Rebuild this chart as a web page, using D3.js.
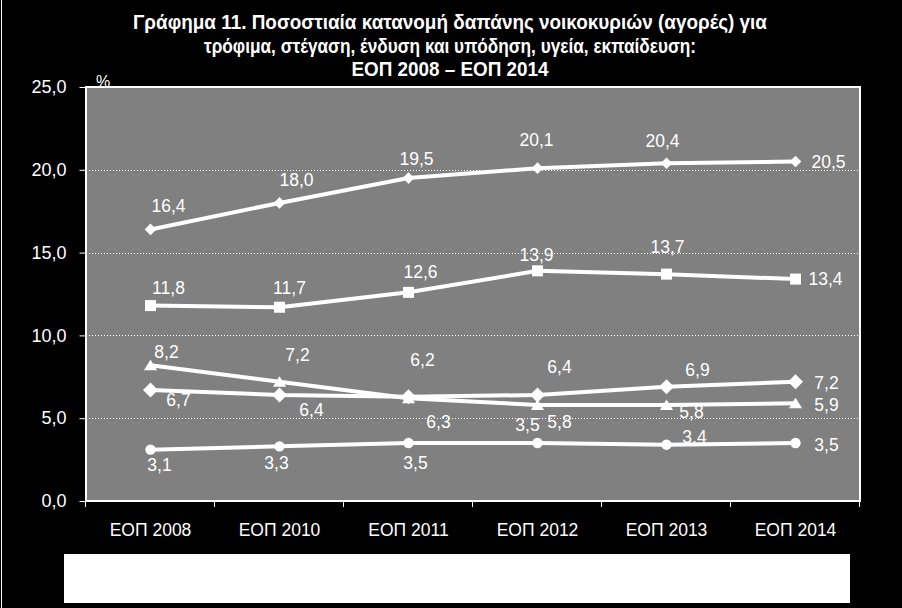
<!DOCTYPE html>
<html>
<head>
<meta charset="utf-8">
<script src="https://cdn.jsdelivr.net/npm/d3@7"></script>
<style>
  html, body { margin: 0; padding: 0; background: #000; }
  svg { display: block; }
  text { font-family: "Liberation Sans", Arial, sans-serif; fill: #fff; }
</style>
</head>
<body>
<svg id="chart" width="902" height="608"></svg>
<script>
// ---- Data ----
const categories = ["ΕΟΠ 2008", "ΕΟΠ 2010", "ΕΟΠ 2011", "ΕΟΠ 2012", "ΕΟΠ 2013", "ΕΟΠ 2014"];
const food      = [16.4, 18.0, 19.5, 20.1, 20.4, 20.5];
const housing   = [11.8, 11.7, 12.6, 13.9, 13.7, 13.4];
const clothing  = [8.2, 7.2, 6.2, 5.8, 5.8, 5.9];
const health    = [6.7, 6.4, 6.3, 6.4, 6.9, 7.2];
const education = [3.1, 3.3, 3.5, 3.5, 3.4, 3.5];
const yTicks = [0, 5, 10, 15, 20, 25];
const titleLines = [
  "Γράφημα 11. Ποσοστιαία κατανομή δαπάνης νοικοκυριών (αγορές) για",
  "τρόφιμα, στέγαση, ένδυση και υπόδηση, υγεία, εκπαίδευση:",
  "ΕΟΠ 2008 – ΕΟΠ 2014"
];

// ---- Label placement (style, offsets from point in px) ----
const foodLabelOffsets      = [[18,-24],[17,-23],[8,-19],[-1,-28],[-4,-22],[33,0]];
const housingLabelOffsets   = [[18,-18],[10,-19],[12,-20],[-1,-16],[1,-27],[30,0]];
const clothingLabelOffsets  = [[16,-13],[18,-27],[14,-38],[22,17],[25,7],[31,2]];
const healthLabelOffsets    = [[28,10],[32,15],[30,25],[22,-28],[31,-17],[31,1]];
const educationLabelOffsets = [[9,15],[-3,17],[7,20],[-10,-18],[28,-8],[31,2]];

const W = 902, H = 608;
const plot = { left: 86, right: 860, top: 87, bottom: 501 };

const svg = d3.select("#chart");

// left frame line
svg.append("line").attr("x1", 1.5).attr("x2", 1.5).attr("y1", 0).attr("y2", H)
  .attr("stroke", "#fff").attr("stroke-width", 1);

// title
const titleY = [29, 53, 76];
const titleW = [634, 492, 197];
titleLines.forEach((t, i) => {
  svg.append("text")
    .attr("x", 450).attr("y", titleY[i])
    .attr("text-anchor", "middle")
    .attr("font-weight", "bold")
    .attr("font-size", 19.5)
    .style("font-family", "'Liberation Sans Narrow', 'Arial Narrow', 'Liberation Sans', Arial, sans-serif")
    .attr("textLength", titleW[i])
    .attr("lengthAdjust", "spacingAndGlyphs")
    .text(t);
});

// scales
const x = d3.scaleBand().domain(categories).range([plot.left, plot.right]).paddingInner(0).paddingOuter(0);
const y = d3.scaleLinear().domain([0, 25]).range([plot.bottom, plot.top]);
const cx = c => x(c) + x.bandwidth() / 2;

// plot background
svg.append("rect")
  .attr("x", plot.left).attr("y", plot.top)
  .attr("width", plot.right - plot.left).attr("height", plot.bottom - plot.top)
  .attr("fill", "#808080");

// gridlines
svg.append("g").selectAll("line")
  .data(yTicks.filter(d => d > 0 && d < 25))
  .join("line")
  .attr("x1", plot.left).attr("x2", plot.right)
  .attr("y1", d => Math.round(y(d)) + 0.5).attr("y2", d => Math.round(y(d)) + 0.5)
  .attr("stroke", "#fff").attr("stroke-width", 1).attr("stroke-dasharray", "1,2");

// plot border
svg.append("rect")
  .attr("x", plot.left).attr("y", plot.top)
  .attr("width", plot.right - plot.left).attr("height", plot.bottom - plot.top)
  .attr("fill", "none").attr("stroke", "#fff").attr("stroke-width", 2);

// y axis
const yAxis = d3.axisLeft(y).tickValues(yTicks).tickSize(6).tickPadding(13)
  .tickFormat(d => d3.format(".1f")(d).replace(".", ","));
const gy = svg.append("g").attr("transform", `translate(${plot.left - 0.5},0)`).call(yAxis);
gy.select(".domain").remove();
gy.selectAll(".tick line").attr("stroke", "#fff");
gy.selectAll(".tick text").attr("font-size", 18).attr("fill", "#fff")
  .style("font-family", "'Liberation Sans', Arial, sans-serif");

// "%" label
svg.append("text").attr("x", 103).attr("y", 87).attr("text-anchor", "middle")
  .attr("font-size", 16).text("%");

// x axis labels
const xAxis = d3.axisBottom(x).tickSize(0).tickPadding(23);
const gx = svg.append("g").attr("transform", `translate(0,${plot.bottom})`).call(xAxis);
gx.select(".domain").remove();
gx.selectAll(".tick text").attr("font-size", 17.5).attr("fill", "#fff")
  .style("font-family", "'Liberation Sans', Arial, sans-serif");

// x tick marks at band edges
const edges = [x(categories[0])].concat(categories.map(c => x(c) + x.bandwidth()));
svg.append("g").selectAll("line").data(edges).join("line")
  .attr("x1", d => Math.round(d) - 0.5).attr("x2", d => Math.round(d) - 0.5)
  .attr("y1", plot.bottom).attr("y2", plot.bottom + 6)
  .attr("stroke", "#fff").attr("stroke-width", 1);

// series
const diamond = r => `M0,${-r}L${r},0L0,${r}L${-r},0Z`;
const square = s => `M${-s/2},${-s/2}h${s}v${s}h${-s}Z`;
const triangle = s => `M0,${-s*0.5}L${s*0.6},${s*0.45}L${-s*0.6},${s*0.45}Z`;
const circle = r => `M${r},0A${r},${r},0,1,1,${-r},0A${r},${r},0,1,1,${r},0Z`;

const series = [
  { values: education, marker: circle(5.2),  offsets: educationLabelOffsets },
  { values: health,    marker: diamond(7.5), offsets: healthLabelOffsets },
  { values: clothing,  marker: triangle(11), offsets: clothingLabelOffsets },
  { values: housing,   marker: square(11),   offsets: housingLabelOffsets },
  { values: food,      marker: diamond(5.8), offsets: foodLabelOffsets }
];

const line = d3.line().x((d, i) => cx(categories[i])).y(d => y(d));

const gs = svg.append("g");
series.forEach(s => {
  gs.append("path").datum(s.values)
    .attr("d", line).attr("fill", "none")
    .attr("stroke", "#fff").attr("stroke-width", 4).attr("stroke-linejoin", "round");
});
series.forEach(s => {
  gs.append("g").selectAll("path").data(s.values).join("path")
    .attr("transform", (d, i) => `translate(${cx(categories[i])},${y(d)})`)
    .attr("d", s.marker).attr("fill", "#fff");
});
const fmt = v => d3.format(".1f")(v).replace(".", ",");
series.forEach(s => {
  gs.append("g").selectAll("text").data(s.values).join("text")
    .attr("x", (d, i) => cx(categories[i]) + s.offsets[i][0])
    .attr("y", (d, i) => y(d) + s.offsets[i][1])
    .attr("dy", "0.35em")
    .attr("text-anchor", "middle")
    .attr("font-size", 17.5)
    .text(fmt);
});

// white box at bottom
svg.append("rect").attr("x", 64).attr("y", 554).attr("width", 786).attr("height", 49).attr("fill", "#fff");
</script>
</body>
</html>
